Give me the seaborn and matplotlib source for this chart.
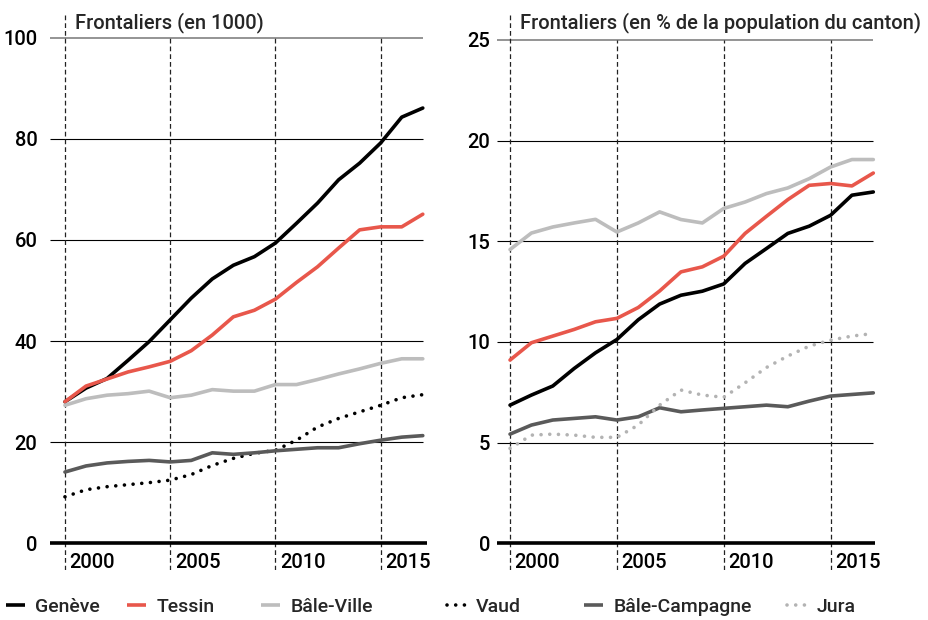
import numpy as np
import pandas as pd
import matplotlib.pyplot as plt
import seaborn as sns
from matplotlib.lines import Line2D

# --- données ---
years = list(range(2000, 2018))
cantons = ["Genève", "Tessin", "Bâle-Ville", "Vaud", "Bâle-Campagne", "Jura"]

# frontaliers en milliers
ge_abs = [28.0, 30.7, 32.6, 36.2, 39.9, 44.2, 48.5, 52.3, 55.0, 56.7, 59.4, 63.3, 67.3, 71.9, 75.2, 79.2, 84.3, 86.1]
ti_abs = [28.0, 31.1, 32.5, 33.9, 34.9, 36.0, 38.1, 41.2, 44.8, 46.1, 48.3, 51.6, 54.7, 58.4, 62.0, 62.6, 62.6, 65.1]
bs_abs = [27.3, 28.6, 29.3, 29.6, 30.1, 28.8, 29.3, 30.4, 30.1, 30.1, 31.4, 31.4, 32.4, 33.5, 34.5, 35.6, 36.5, 36.5]
vd_abs = [9.2, 10.6, 11.2, 11.6, 12.0, 12.5, 13.6, 15.4, 16.8, 17.8, 18.4, 20.4, 23.0, 24.7, 26.0, 27.3, 28.8, 29.4]
bl_abs = [14.1, 15.3, 15.9, 16.2, 16.4, 16.1, 16.4, 17.9, 17.6, 17.9, 18.3, 18.6, 18.9, 18.9, 19.7, 20.4, 21.0, 21.3]

# frontaliers en % de la population du canton
ge_pct = [6.86, 7.36, 7.81, 8.68, 9.46, 10.12, 11.1, 11.88, 12.32, 12.52, 12.88, 13.9, 14.64, 15.39, 15.75, 16.29, 17.29, 17.45]
ti_pct = [9.1, 9.96, 10.29, 10.62, 11.0, 11.17, 11.71, 12.53, 13.48, 13.73, 14.26, 15.39, 16.24, 17.07, 17.78, 17.87, 17.75, 18.39]
bs_pct = [14.59, 15.41, 15.71, 15.91, 16.09, 15.46, 15.91, 16.46, 16.08, 15.91, 16.63, 16.95, 17.37, 17.65, 18.11, 18.69, 19.06, 19.06]
bl_pct = [5.42, 5.87, 6.12, 6.2, 6.28, 6.12, 6.28, 6.73, 6.53, 6.62, 6.7, 6.78, 6.86, 6.78, 7.06, 7.31, 7.39, 7.47]
ju_pct = [4.71, 5.37, 5.42, 5.37, 5.26, 5.26, 5.87, 6.86, 7.61, 7.36, 7.25, 7.97, 8.73, 9.3, 9.79, 10.09, 10.29, 10.42]

dash_years = [2000, 2005, 2010, 2015]

colors = {"Genève": "#000000", "Tessin": "#e8574b", "Bâle-Ville": "#bdbdbd",
          "Vaud": "#000000", "Bâle-Campagne": "#5a5a5a", "Jura": "#b3b3b3"}
dotted = {"Vaud", "Jura"}

left_series = {"Genève": ge_abs, "Tessin": ti_abs, "Bâle-Ville": bs_abs,
               "Vaud": vd_abs, "Bâle-Campagne": bl_abs}
right_series = {"Genève": ge_pct, "Tessin": ti_pct, "Bâle-Ville": bs_pct,
                "Bâle-Campagne": bl_pct, "Jura": ju_pct}

sns.set_theme(style="white")
plt.rcParams["font.family"] = ["Roboto", "DejaVu Sans"]
plt.rcParams["font.weight"] = "medium"

fig = plt.figure(figsize=(9.29, 6.2), dpi=100)
ax1 = fig.add_axes([50 / 929, 1 - 570 / 620, 377 / 929, 557 / 620])
ax2 = fig.add_axes([497 / 929, 1 - 570 / 620, 381 / 929, 557 / 620])

DOT = dict(linestyle=(0, (0.01, 2.4)), dash_capstyle="round")


def draw_panel(ax, series, yticks, ylim, xlim, xzero_end, pad):
    ax.set_xlim(*xlim)
    ax.set_ylim(*ylim)
    # grille horizontale
    ax.hlines(yticks[1:-1], xlim[0], 2017, color="black", lw=0.8, zorder=1)
    ax.hlines(yticks[-1], xlim[0], 2017, color="#777777", lw=1.1, zorder=1)
    ax.hlines(0, xlim[0], xzero_end, color="black", lw=2.6, zorder=4)
    top = (yticks[-1] - ylim[0]) / (ylim[1] - ylim[0])
    for i, yr in enumerate(dash_years):
        ax.axvline(yr, ymax=1 if i == 0 else top, color="#222222", lw=0.9,
                   linestyle=(0, (3.8, 2.4)), zorder=1)
        ax.text(yr + 0.22, 0.0126, str(yr), transform=ax.get_xaxis_transform(),
                ha="left", va="center", fontsize=14.5, color="black")

    for name, vals in series.items():
        df = pd.DataFrame({"annee": years, "valeur": vals})
        kw = DOT if name in dotted else dict(solid_capstyle="round")
        sns.lineplot(data=df, x="annee", y="valeur", ax=ax, color=colors[name],
                     lw=2.6, zorder=3, **kw)

    ax.set_yticks(yticks)
    ax.set_yticklabels([str(t) for t in yticks], fontsize=14.5, color="black")
    ax.tick_params(axis="y", length=0, pad=pad)
    ax.set_xticks([])
    ax.set_xlabel("")
    ax.set_ylabel("")
    sns.despine(ax=ax, left=True, bottom=True)
    ax.grid(False)


draw_panel(ax1, left_series, [0, 20, 40, 60, 80, 100], (-5.28, 104.9),
           (1999.29, 2017.2), 2017.2, 9)
draw_panel(ax2, right_series, [0, 5, 10, 15, 20, 25], (-1.33, 26.34),
           (1999.39, 2017.22), 2017.08, 5)

fig.text(75 / 929, 1 - 23 / 620, "Frontaliers (en 1000)", fontsize=14.5,
         ha="left", va="center")
fig.text(520 / 929, 1 - 23 / 620, "Frontaliers (en % de la population du canton)",
         fontsize=14.5, ha="left", va="center")

# légende
legend_x = [6, 127, 261, 447, 584, 787]
for name, x in zip(cantons, legend_x):
    kw = DOT if name in dotted else dict(solid_capstyle="butt")
    h = Line2D([], [], color=colors[name], lw=2.6, **kw)
    fig.legend([h], [name], loc="center left",
               bbox_to_anchor=(x / 929, 1 - 607 / 620), frameon=False,
               fontsize=14, handlelength=1.0, handletextpad=0.5,
               borderaxespad=0, borderpad=0)

fig.savefig("out.png", dpi=100)
